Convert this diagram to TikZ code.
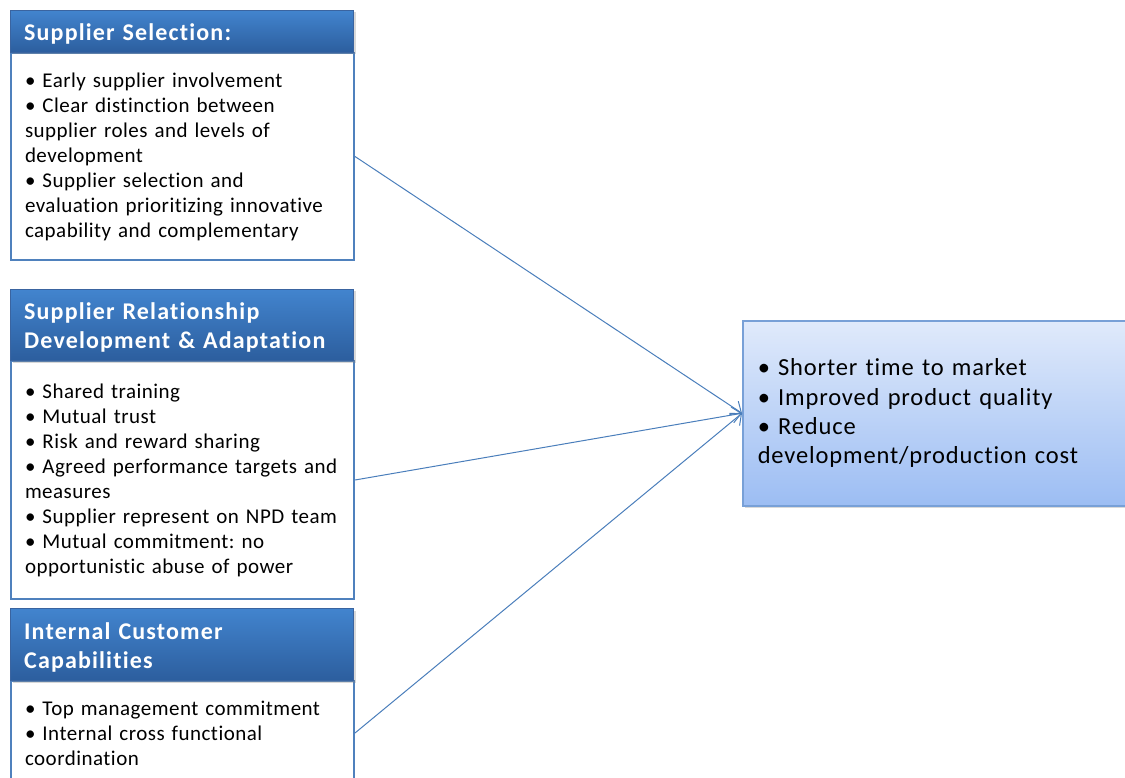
\documentclass[tikz,border=0pt]{standalone}
\usepackage{fontspec}
\setmainfont{Carlito}[Ligatures=NoCommon]
\newfontfamily\bodyfont{Carlito}[Ligatures=NoCommon, LetterSpace=2.3]
\newfontfamily\headfont{Carlito}[Ligatures=NoCommon, LetterSpace=4.8]
\newfontfamily\resfont{Carlito}[Ligatures=NoCommon, LetterSpace=3.5]
\frenchspacing
\usetikzlibrary{arrows.meta,shadows}

\definecolor{hdtop}{RGB}{66,132,206}
\definecolor{hdbot}{RGB}{44,94,158}
\definecolor{hdline}{RGB}{58,100,160}
\definecolor{boxline}{RGB}{79,129,189}
\definecolor{restop}{RGB}{224,234,251}
\definecolor{resbot}{RGB}{156,189,243}
\definecolor{resline}{RGB}{120,160,215}
\definecolor{linkcol}{RGB}{74,126,187}

\tikzset{
  header/.style={draw=hdline, line width=1pt, top color=hdtop, bottom color=hdbot,
    anchor=north west, minimum width=343pt, inner sep=0pt,
    drop shadow={shadow xshift=2pt, shadow yshift=-2pt, opacity=0.3}},
  headtext/.style={text=white, font=\headfont\fontsize{24}{29}\selectfont\bfseries,
    anchor=west, text width=315pt, inner xsep=14pt, inner ysep=0pt, align=left,
    yshift=-2.5pt},
  listbox/.style={draw=boxline, line width=2pt, fill=white, anchor=north west,
    minimum width=343pt, text width=315pt, inner xsep=14pt, inner ysep=0pt, align=left,
    font=\bodyfont\fontsize{21}{25}\selectfont},
  result/.style={draw=resline, line width=1.5pt, top color=restop, bottom color=resbot,
    anchor=north west, minimum width=400pt, minimum height=185pt, text width=370pt,
    inner xsep=15pt, inner ysep=0pt, align=left, font=\resfont\fontsize{24.5}{29.3}\selectfont,
    drop shadow={shadow xshift=2pt, shadow yshift=-2pt, opacity=0.3}},
  link/.style={draw=linkcol, line width=1pt, -{Straight Barb[length=9pt,width=16pt]}}
}

\begin{document}
\begin{tikzpicture}[x=1pt,y=-1pt]
  \useasboundingbox (0,0) rectangle (1125,778);
  \clip (0,0) rectangle (1125,778);

  % bulleted content boxes
  \node[listbox, minimum height=207pt] (body1) at (10,52)
    {• Early supplier involvement\\
     • Clear distinction between\\
     supplier roles and levels of\\
     development\\
     • Supplier selection and\\
     evaluation prioritizing innovative\\
     capability and complementary};
  \node[listbox, minimum height=238pt] (body2) at (10,360)
    {• Shared training\\
     • Mutual trust\\
     • Risk and reward sharing\\
     • Agreed performance targets and\\
     measures\\
     • Supplier represent on NPD team\\
     • Mutual commitment: no\\
     opportunistic abuse of power};
  \node[listbox, minimum height=104pt] (body3) at (10,680)
    {• Top management commitment\\
     • Internal cross functional\\
     coordination};

  % section headers: gradient bar plus title
  \node[header, minimum height=42pt] (head1) at (10,10) {};
  \node[headtext] (title1) at (head1.west) {Supplier Selection:};
  \node[header, minimum height=71pt] (head2) at (10,289) {};
  \node[headtext] (title2) at (head2.west)
    {Supplier Relationship\\ Development \& Adaptation};
  \node[header, minimum height=72pt] (head3) at (10,608) {};
  \node[headtext] (title3) at (head3.west)
    {Internal Customer\\ Capabilities};

  % outcomes
  \node[result] (res) at (742,320)
    {• Shorter time to market\\
     • Improved product quality\\
     • Reduce\\
     development/production cost};

  % connectors
  \draw[link] (body1.east) -- (res.west);
  \draw[link] (body2.east) -- (res.west);
  \draw[link] (body3.east) -- (res.west);
\end{tikzpicture}
\end{document}
